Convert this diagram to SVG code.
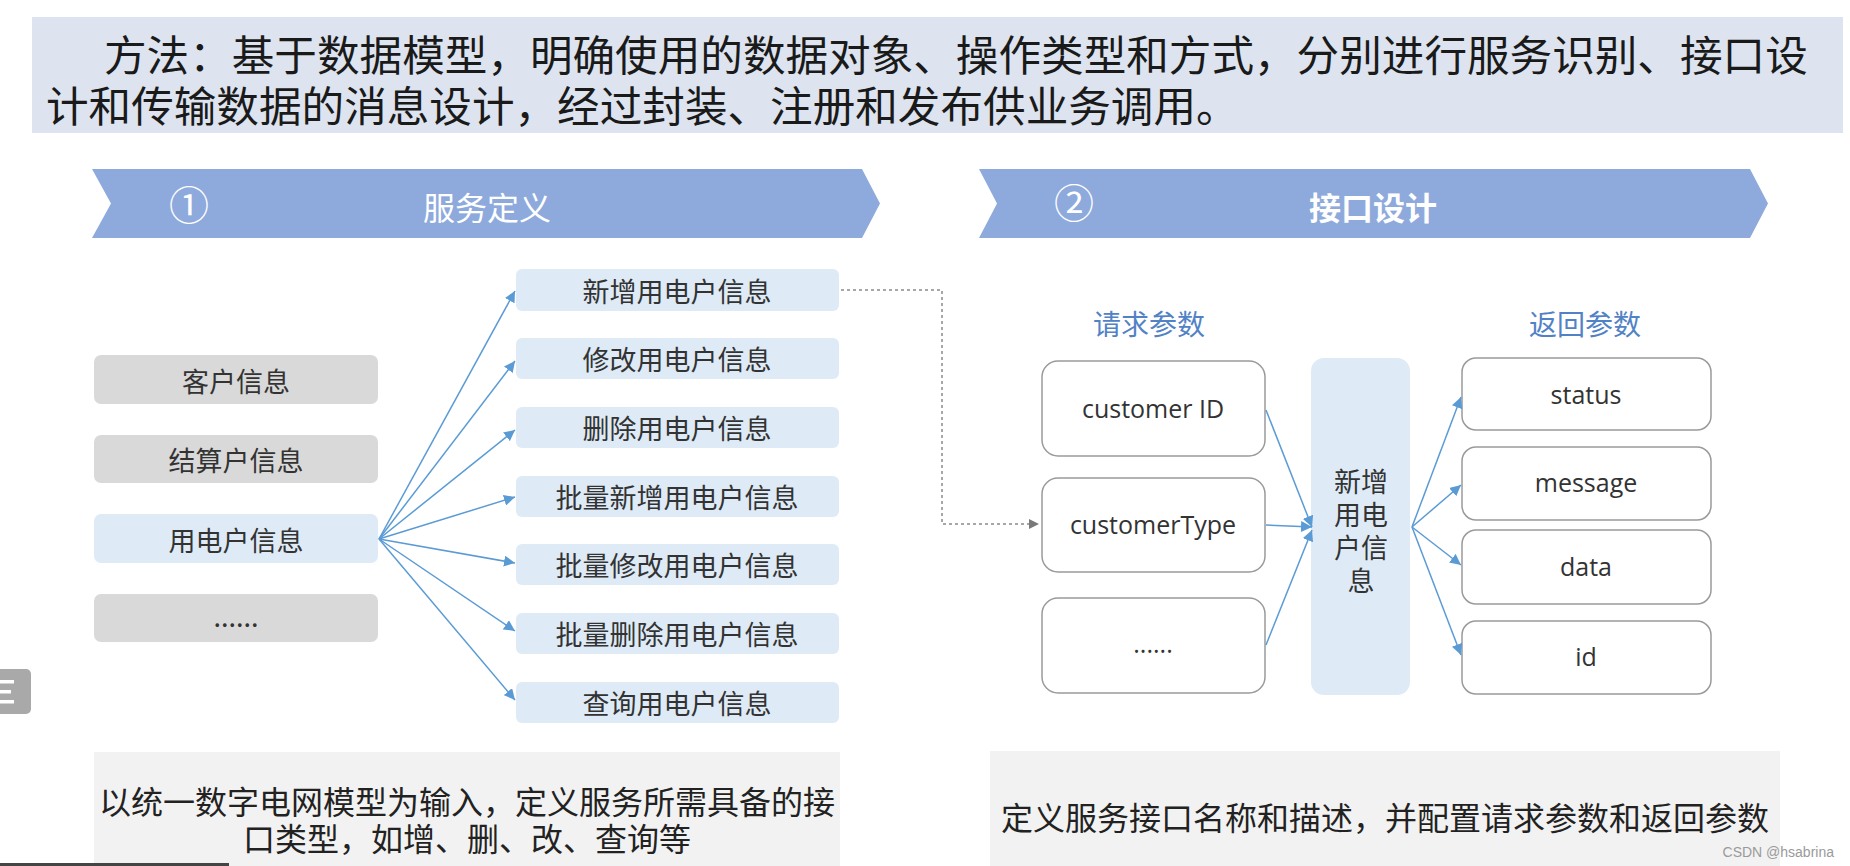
<svg xmlns="http://www.w3.org/2000/svg" width="1850" height="866" viewBox="0 0 1850 866">
<defs>
<style>
.cjk{font-family:"Noto Sans CJK SC","Noto Sans",sans-serif;}
.lat{font-family:"Open Sans","Noto Sans CJK SC",sans-serif;}
.t{dominant-baseline:central;text-anchor:middle;}
.gray{fill:#d9d9d9;}
.lb{fill:#deebf7;}
.wb{fill:#ffffff;stroke:#9a9a9a;stroke-width:1.5;}
.lbl{font-size:27px;fill:#333333;}
.prm{font-size:25px;fill:#333333;}
.hdr{fill:#8eaadc;}
.conn{stroke:#5b9bd5;stroke-width:1.5;fill:none;}
.dash{stroke:#8a8a8a;stroke-width:1.5;fill:none;stroke-dasharray:3 3;}
.panel{fill:#f2f2f2;}
.ptxt{font-size:32px;fill:#222222;}
</style>
<marker id="ab" viewBox="0 0 10 10" refX="10" refY="5" markerWidth="11" markerHeight="11" markerUnits="userSpaceOnUse" orient="auto">
<path d="M0,0 L10,5 L0,10 Z" fill="#5b9bd5"/>
</marker>
<marker id="ag" viewBox="0 0 10 10" refX="10" refY="5" markerWidth="10" markerHeight="10" markerUnits="userSpaceOnUse" orient="auto">
<path d="M0,0 L10,5 L0,10 Z" fill="#7a7a7a"/>
</marker>
</defs>
<rect x="0" y="0" width="1850" height="866" fill="#ffffff"/>

<g id="title">
<rect x="32" y="17" width="1811" height="116" fill="#dde4ef"/>
<text class="cjk" font-size="42.6" fill="#1a1a1a" dominant-baseline="central"><tspan x="104" y="52">方法：基于数据模型，明确使用的数据对象、操作类型和方式，分别进行服务识别、接口设</tspan><tspan x="46" y="102.5">计和传输数据的消息设计，经过封装、注册和发布供业务调用。</tspan></text>
</g>

<g id="header1">
<polygon class="hdr" points="92,169 862,169 880,203.5 862,238 92,238 111,203.5"/>
<text class="cjk t" x="189" y="203" font-size="40" fill="#ffffff">①</text>
<text class="cjk t" x="487" y="206" font-size="32" fill="#ffffff">服务定义</text>
</g>

<g id="header2">
<polygon class="hdr" points="979,169 1750,169 1768,203.5 1750,238 979,238 997,203.5"/>
<text class="cjk t" x="1074" y="201" font-size="40" fill="#ffffff">②</text>
<text class="cjk t" x="1373" y="206" font-size="32" font-weight="bold" fill="#ffffff">接口设计</text>
</g>

<g id="n-kehu"><rect class="gray" x="94" y="355" width="284" height="49" rx="7"/><text class="cjk t lbl" x="236" y="380">客户信息</text></g>
<g id="n-jiesuan"><rect class="gray" x="94" y="435" width="284" height="48" rx="7"/><text class="cjk t lbl" x="236" y="459">结算户信息</text></g>
<g id="n-yongdian"><rect class="lb" x="94" y="514" width="284" height="49" rx="7"/><text class="cjk t lbl" x="236" y="539">用电户信息</text></g>
<g id="n-more1"><rect class="gray" x="94" y="594" width="284" height="48" rx="7"/><text class="cjk t lbl" x="236" y="615">......</text></g>

<g id="op-add"><rect class="lb" x="516" y="269" width="323" height="42" rx="6"/><text class="cjk t lbl" x="677" y="290">新增用电户信息</text></g>
<g id="op-mod"><rect class="lb" x="516" y="338" width="323" height="41" rx="6"/><text class="cjk t lbl" x="677" y="358.5">修改用电户信息</text></g>
<g id="op-del"><rect class="lb" x="516" y="407" width="323" height="41" rx="6"/><text class="cjk t lbl" x="677" y="427.5">删除用电户信息</text></g>
<g id="op-badd"><rect class="lb" x="516" y="476" width="323" height="41" rx="6"/><text class="cjk t lbl" x="677" y="496.5">批量新增用电户信息</text></g>
<g id="op-bmod"><rect class="lb" x="516" y="544" width="323" height="41" rx="6"/><text class="cjk t lbl" x="677" y="564.5">批量修改用电户信息</text></g>
<g id="op-bdel"><rect class="lb" x="516" y="613" width="323" height="41" rx="6"/><text class="cjk t lbl" x="677" y="633.5">批量删除用电户信息</text></g>
<g id="op-query"><rect class="lb" x="516" y="682" width="323" height="41" rx="6"/><text class="cjk t lbl" x="677" y="702.5">查询用电户信息</text></g>

<g id="lbl-req"><text class="cjk t" x="1149" y="323" font-size="28" fill="#5282c6">请求参数</text></g>
<g id="lbl-resp"><text class="cjk t" x="1585" y="323" font-size="28" fill="#5282c6">返回参数</text></g>

<g id="p-cid"><rect class="wb" x="1042" y="361" width="223" height="95" rx="16"/><text class="lat t prm" x="1153" y="408">customer ID</text></g>
<g id="p-ctype"><rect class="wb" x="1042" y="478" width="223" height="94" rx="16"/><text class="lat t prm" x="1153" y="524">customerType</text></g>
<g id="p-more"><rect class="wb" x="1042" y="598" width="223" height="95" rx="16"/><text class="lat t prm" x="1153" y="643">......</text></g>

<g id="center-op"><rect class="lb" x="1311" y="358" width="99" height="337" rx="13"/>
<text class="cjk t" font-size="27" fill="#333333"><tspan x="1361" y="480">新增</tspan><tspan x="1361" y="513">用电</tspan><tspan x="1361" y="546">户信</tspan><tspan x="1361" y="579">息</tspan></text>
</g>

<g id="r-status"><rect class="wb" x="1462" y="358" width="249" height="72" rx="14"/><text class="lat t prm" x="1586" y="394">status</text></g>
<g id="r-message"><rect class="wb" x="1462" y="447" width="249" height="73" rx="14"/><text class="lat t prm" x="1586" y="482">message</text></g>
<g id="r-data"><rect class="wb" x="1462" y="530" width="249" height="74" rx="14"/><text class="lat t prm" x="1586" y="566">data</text></g>
<g id="r-id"><rect class="wb" x="1462" y="621" width="249" height="73" rx="14"/><text class="lat t prm" x="1586" y="656">id</text></g>

<g id="connectors">
<line class="conn" x1="379" y1="539" x2="515" y2="291" marker-end="url(#ab)"/>
<line class="conn" x1="379" y1="539" x2="515" y2="361" marker-end="url(#ab)"/>
<line class="conn" x1="379" y1="539" x2="515" y2="430" marker-end="url(#ab)"/>
<line class="conn" x1="379" y1="539" x2="515" y2="497" marker-end="url(#ab)"/>
<line class="conn" x1="379" y1="539" x2="515" y2="563" marker-end="url(#ab)"/>
<line class="conn" x1="379" y1="539" x2="515" y2="631" marker-end="url(#ab)"/>
<line class="conn" x1="379" y1="539" x2="515" y2="700" marker-end="url(#ab)"/>
<polyline class="dash" points="841,290 942,290 942,524 1039,524" marker-end="url(#ag)"/>
<line class="conn" x1="1266" y1="410" x2="1312" y2="527" marker-end="url(#ab)"/>
<line class="conn" x1="1266" y1="525" x2="1312" y2="527" marker-end="url(#ab)"/>
<line class="conn" x1="1266" y1="645" x2="1312" y2="530" marker-end="url(#ab)"/>
<line class="conn" x1="1412" y1="527" x2="1461" y2="397" marker-end="url(#ab)"/>
<line class="conn" x1="1412" y1="527" x2="1461" y2="485" marker-end="url(#ab)"/>
<line class="conn" x1="1412" y1="527" x2="1461" y2="565" marker-end="url(#ab)"/>
<line class="conn" x1="1412" y1="527" x2="1461" y2="655" marker-end="url(#ab)"/>
</g>

<g id="panel-left">
<rect class="panel" x="94" y="752" width="746" height="114"/>
<text class="cjk t ptxt"><tspan x="467" y="800">以统一数字电网模型为输入，定义服务所需具备的接</tspan><tspan x="467" y="837">口类型，如增、删、改、查询等</tspan></text>
</g>

<g id="panel-right">
<rect class="panel" x="990" y="751" width="790" height="115"/>
<text class="cjk t ptxt" x="1385" y="816">定义服务接口名称和描述，并配置请求参数和返回参数</text>
</g>

<g id="ui-artifacts">
<rect x="-8" y="669" width="39" height="45" rx="5" fill="#a9a9a9"/>
<rect x="0" y="680" width="14" height="3.5" fill="#ffffff"/>
<rect x="0" y="690" width="11" height="3.5" fill="#ffffff"/>
<rect x="0" y="700" width="14" height="3.5" fill="#ffffff"/>
<rect x="0" y="863" width="229" height="3" fill="#444444"/>
<text x="1834" y="852" font-family="Liberation Sans, sans-serif" font-size="14" fill="#9a9a9a" text-anchor="end" dominant-baseline="central">CSDN @hsabrina</text>
</g>
</svg>
